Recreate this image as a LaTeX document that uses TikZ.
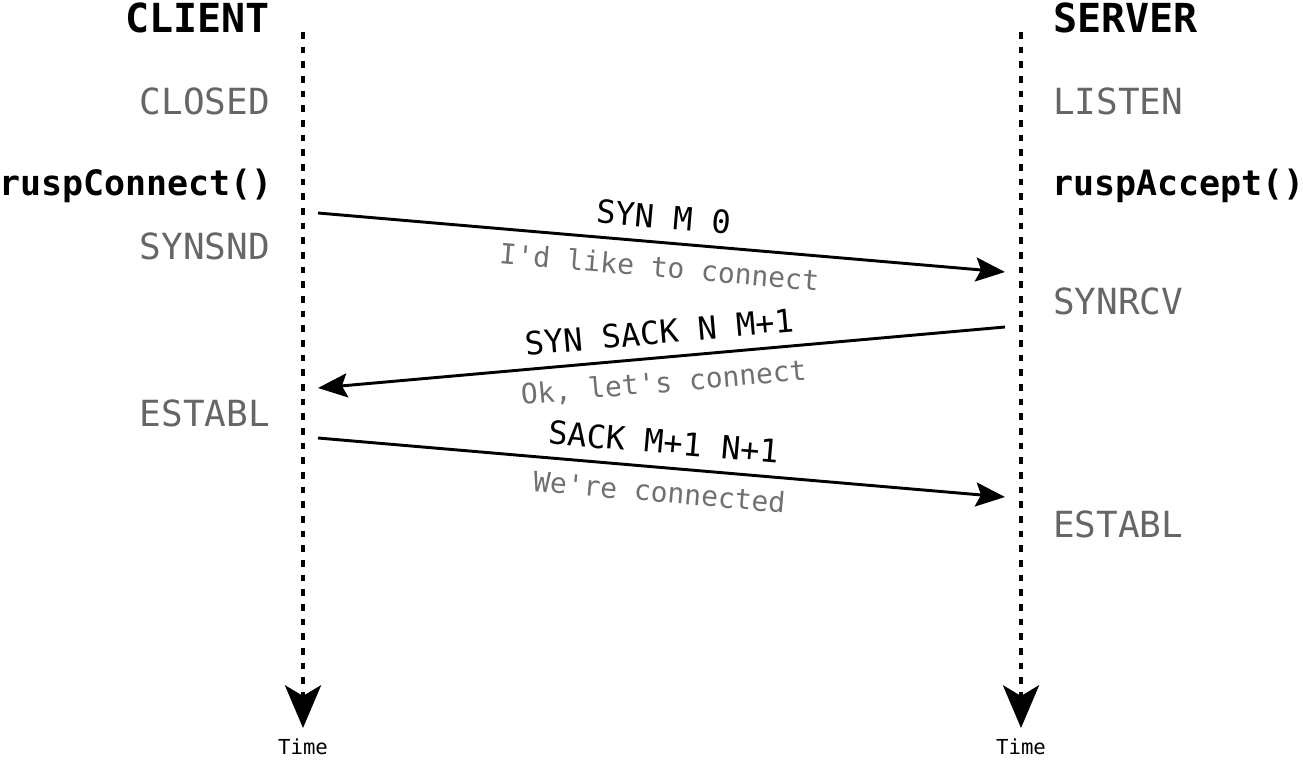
\documentclass[tikz,border=0pt]{standalone}
\usepackage{fontspec}
\setmonofont{DejaVu Sans Mono}
\usetikzlibrary{arrows.meta}
\definecolor{stategray}{HTML}{666666}
\definecolor{notegray}{HTML}{707070}
\begin{document}
\begin{tikzpicture}[x=0.75pt, y=-0.75pt,
  role/.style={font=\ttfamily\bfseries\fontsize{30}{33}\selectfont, inner sep=0pt},
  state/.style={font=\ttfamily\fontsize{27}{30}\selectfont, text=stategray, inner sep=0pt},
  call/.style={font=\ttfamily\bfseries\fontsize{26.2}{30}\selectfont, inner sep=0pt},
  msg/.style={font=\ttfamily\fontsize{24}{28}\selectfont, inner sep=0pt},
  note/.style={font=\ttfamily\fontsize{21}{24}\selectfont, text=notegray, inner sep=0pt},
  stamp/.style={font=\ttfamily\fontsize{15.5}{18}\selectfont, inner sep=0pt},
  lifeline/.style={line width=3pt, dash pattern=on 5pt off 6pt, -{Stealth[length=32pt, width=27pt, inset=8pt]}},
  packet/.style={line width=2.2pt, -{Stealth[length=22pt, width=18pt, inset=4pt]}}]
\useasboundingbox (0,0) rectangle (1303,760);
% lifelines
\coordinate (ctop) at (303,32);
\coordinate (cbot) at (303,728);
\coordinate (stop) at (1021,32);
\coordinate (sbot) at (1021,728);
\draw[lifeline] (ctop) -- (cbot);
\draw[lifeline] (stop) -- (sbot);
\node[stamp] (ctime) at (303,747) {Time};
\node[stamp] (stime) at (1021,747) {Time};
% client side
\node[role, anchor=east] (client) at (270,18) {CLIENT};
\node[state, anchor=east] (cst0) at (270,101) {CLOSED};
\node[call, anchor=east] (ccall) at (273,186) {ruspConnect()};
\node[state, anchor=east] (cst1) at (270,246) {SYNSND};
\node[state, anchor=east] (cst2) at (270,413) {ESTABL};
% server side
\node[role, anchor=west] (server) at (1053,18) {SERVER};
\node[state, anchor=west] (sst0) at (1053,101) {LISTEN};
\node[call, anchor=west] (scall) at (1052,186) {ruspAccept()};
\node[state, anchor=west] (sst1) at (1053,301) {SYNRCV};
\node[state, anchor=west] (sst2) at (1053,524) {ESTABL};
% handshake
\coordinate (c1) at (318,213);
\coordinate (s1) at (1005,272);
\coordinate (s2) at (1005,327);
\coordinate (c2) at (318,388);
\coordinate (c3) at (318,438);
\coordinate (s3) at (1005,497);
\draw[packet] (c1) -- node[msg, sloped, above=9pt] (m1) {SYN M 0}
  node[note, sloped, below=9pt] (n1) {I'd like to connect} (s1);
\draw[packet] (s2) -- node[msg, sloped, above=9pt] (m2) {SYN SACK N M+1}
  node[note, sloped, below=9pt] (n2) {Ok, let's connect} (c2);
\draw[packet] (c3) -- node[msg, sloped, above=9pt] (m3) {SACK M+1 N+1}
  node[note, sloped, below=9pt] (n3) {We're connected} (s3);
\end{tikzpicture}
\end{document}
